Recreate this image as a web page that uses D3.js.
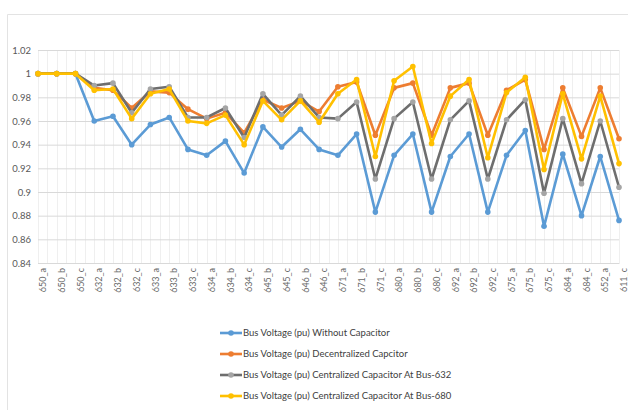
<!DOCTYPE html>
<html>
<head>
<meta charset="utf-8">
<script src="https://cdn.jsdelivr.net/npm/d3@7"></script>
<style>
  body { margin: 0; background: #fff; }
  #chart { width: 628px; height: 410px; }
</style>
</head>
<body>
<div id="chart"></div>
<script>
// category labels (bus_phase)
var buses = ["650_a","650_b","650_c","632_a","632_b","632_c","633_a","633_b","633_c",
    "634_a","634_b","634_c","645_b","645_c","646_b","646_c","671_a","671_b","671_c",
    "680_a","680_b","680_c","692_a","692_b","692_c","675_a","675_b","675_c",
    "684_a","684_c","652_a","611_c"];

var withoutCap = [1,1,1,0.960,0.964,0.940,0.957,0.963,0.936,0.931,0.943,0.916,0.955,0.938,0.953,0.936,
    0.931,0.949,0.883,0.931,0.949,0.883,0.930,0.949,0.883,0.931,0.952,0.871,0.932,0.880,0.930,0.876];
var decentralized = [1,1,1,0.988,0.986,0.971,0.985,0.984,0.970,0.962,0.967,0.950,0.978,0.971,0.977,0.968,
    0.989,0.993,0.948,0.988,0.992,0.948,0.988,0.992,0.948,0.986,0.995,0.936,0.988,0.947,0.988,0.945];
var central632 = [1,1,1,0.990,0.992,0.967,0.987,0.989,0.963,0.963,0.971,0.946,0.983,0.965,0.981,0.963,
    0.962,0.976,0.911,0.962,0.976,0.911,0.961,0.977,0.911,0.961,0.978,0.899,0.962,0.907,0.960,0.904];
var central680 = [1,1,1,0.986,0.987,0.962,0.983,0.987,0.960,0.958,0.965,0.940,0.977,0.961,0.977,0.959,
    0.983,0.995,0.930,0.994,1.006,0.941,0.981,0.995,0.929,0.984,0.997,0.919,0.983,0.928,0.981,0.924];

var yTicks = [0.84,0.86,0.88,0.9,0.92,0.94,0.96,0.98,1,1.02];

var series = [
    {name: "Bus Voltage (pu) Without Capacitor", values: withoutCap, line: "#5b9bd5", dot: "#5b9bd5"},
    {name: "Bus Voltage (pu) Decentralized Capcitor", values: decentralized, line: "#ed7d31", dot: "#ed7d31"},
    {name: "Bus Voltage (pu) Centralized Capacitor At Bus-632", values: central632, line: "#6e6e6e", dot: "#a5a5a5"},
    {name: "Bus Voltage (pu) Centralized Capacitor At Bus-680", values: central680, line: "#ffc000", dot: "#ffc000"}
];

var W = 628, H = 410;
var margin = {top: 50, right: 9, bottom: 147, left: 38},
    width = W - margin.left - margin.right,
    height = H - margin.top - margin.bottom;

var font = "Lato, 'Open Sans', sans-serif";

var root = d3.select("#chart")
    .append("svg")
        .attr("width", W)
        .attr("height", H);

// chart area border
root.append("path")
    .attr("d", "M7.5," + H + "V14.5H" + W)
    .attr("fill", "none")
    .attr("stroke", "#e3e3e3");

var svg = root.append("g")
    .attr("transform", "translate(" + margin.left + "," + margin.top + ")");

var x = d3.scalePoint()
    .domain(buses)
    .range([0, width]);

var y = d3.scaleLinear()
    .domain([0.84, 1.02])
    .range([height, 0]);

// vertical gridlines at every category and half-way
var step = x.step();
var vx = [];
buses.forEach(function(b, i) {
    vx.push(x(b));
    if (i < buses.length - 1) vx.push(x(b) + step / 2);
});
svg.selectAll(".vgrid")
    .data(vx)
    .enter()
    .append("line")
        .attr("x1", function(d){ return Math.round(d) + 0.5; })
        .attr("x2", function(d){ return Math.round(d) + 0.5; })
        .attr("y1", 0)
        .attr("y2", height)
        .attr("stroke", "#efefef")
        .attr("stroke-width", 1);

// horizontal gridlines + y labels
svg.append("g")
    .call(d3.axisLeft(y)
        .tickValues(yTicks)
        .tickSize(-width)
        .tickPadding(7)
        .tickFormat(function(d){ return d3.format("")(+d.toFixed(2)); }))
    .call(g => g.select(".domain").remove())
    .call(g => g.selectAll(".tick line").attr("stroke", "#d9d9d9"))
    .call(g => g.selectAll(".tick text")
        .style("font-family", font)
        .style("font-size", "9.5px")
        .attr("fill", "#595959"));

// x axis
svg.append("g")
    .attr("transform", "translate(0," + height + ")")
    .call(d3.axisBottom(x).tickSize(0).tickPadding(5))
    .call(g => g.select(".domain").attr("stroke", "#d9d9d9"))
    .selectAll("text")
        .style("font-family", font)
        .style("font-size", "9px")
        .attr("fill", "#6a6a6a")
        .style("text-anchor", "end")
        .attr("dx", "-5px")
        .attr("dy", "0.3em")
        .attr("transform", "rotate(-90)");

// lines + markers
var line = d3.line()
    .x(function(d, i){ return x(buses[i]); })
    .y(function(d){ return y(d); });

series.forEach(function(s) {
    svg.append("path")
        .datum(s.values)
        .attr("fill", "none")
        .attr("stroke", s.line)
        .attr("stroke-width", 2.6)
        .attr("stroke-linejoin", "round")
        .attr("d", line);
    svg.selectAll(null)
        .data(s.values)
        .enter()
        .append("circle")
            .attr("cx", function(d, i){ return x(buses[i]); })
            .attr("cy", function(d){ return y(d); })
            .attr("r", 2.8)
            .attr("fill", s.dot);
});

// legend
var legend = root.append("g")
    .attr("transform", "translate(220,333)");
var item = legend.selectAll("g")
    .data(series)
    .enter()
    .append("g")
        .attr("transform", function(d, i){ return "translate(0," + (i * 21) + ")"; });
item.append("line")
    .attr("x1", 0).attr("x2", 22)
    .attr("stroke", function(d){ return d.line; })
    .attr("stroke-width", 2.6);
item.append("circle")
    .attr("cx", 11)
    .attr("r", 2.8)
    .attr("fill", function(d){ return d.dot; });
item.append("text")
    .attr("x", 23)
    .attr("dy", "0.35em")
    .style("font-family", font)
    .style("font-size", "9.5px")
    .attr("fill", "#404040")
    .text(function(d){ return d.name; });
</script>
</body>
</html>
